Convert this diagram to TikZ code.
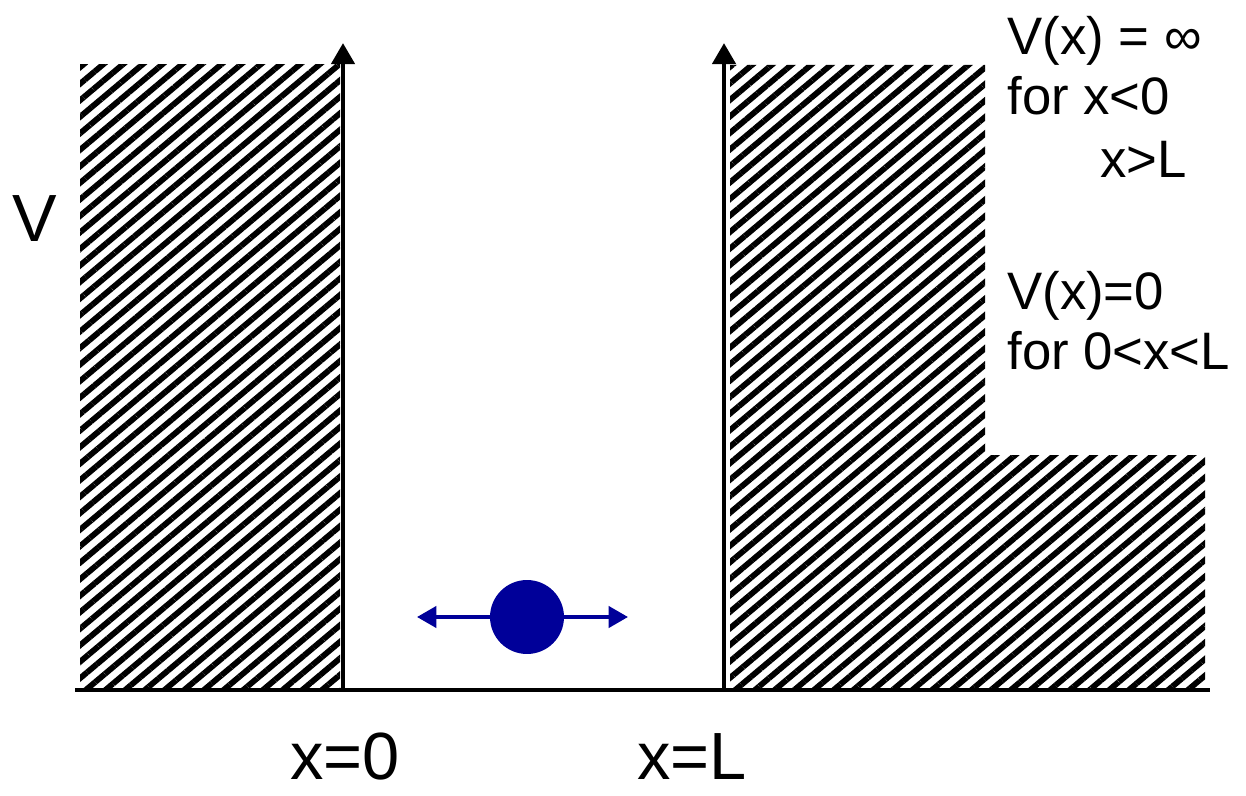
\documentclass[tikz,border=0pt]{standalone}
\usepackage{fontspec}
\setmainfont{Liberation Sans}
\usepackage{tikz}
\usetikzlibrary{arrows.meta,patterns.meta,positioning}
\definecolor{ballblue}{RGB}{0,0,153}

\begin{document}
\begin{tikzpicture}[x=0.02cm, y=0.02cm, line join=miter]

\tikzstyle{wall}=[
    pattern={Lines[angle=40, distance=7.2pt, line width=3.3pt]},
    draw=none
]
\tikzstyle{axis}=[line width=2.8pt, -{Triangle[width=13pt,length=12pt]}]
\tikzstyle{label}=[font=\fontsize{38}{42}\selectfont, inner sep=0pt]
\tikzstyle{note}=[font=\fontsize{30}{34}\selectfont, inner sep=0pt, anchor=base west]

\useasboundingbox (0,0) rectangle (1246,795);

% hatched walls
\fill[wall] (80,105) rectangle (340,730);
\fill[wall] (730,105) -- (730,730) -- (985,730) -- (985,340) -- (1205,340) -- (1205,105) -- cycle;

% axes
\coordinate (O_l) at (343,105);
\coordinate (T_l) at (343,752);
\coordinate (O_r) at (724,105);
\coordinate (T_r) at (724,752);
\coordinate (A_s) at (75,105);
\coordinate (A_e) at (1210,105);
\draw[line width=2.8pt] (A_s) -- (A_e);
\draw[axis] (O_l) -- (T_l);
\draw[axis] (O_r) -- (T_r);

% particle
\node[circle, fill=ballblue, minimum size=1.48cm, inner sep=0pt] (P) at (527,178) {};
\coordinate (P_l) at (417,178);
\coordinate (P_r) at (628,178);
\draw[ballblue, line width=2.2pt, {Triangle[width=12pt,length=11pt]}-{Triangle[width=12pt,length=11pt]}] (P_l) -- (P_r);

% labels
\node[label, anchor=base west] (V) at (12,553) {V};
\node[label, anchor=base] (X0) at (345,16) {x=0};
\node[label, anchor=base] (XL) at (692,16) {x=L};

\node[note] (N1) at (1007,740) {V(x) = ∞};
\node[note] (N2) at (1007,680) {for x<0};
\node[note] (N3) at (1100,617) {x>L};
\node[note] (N4) at (1007,485) {V(x)=0};
\node[note] (N5) at (1007,425) {for 0<x<L};

\end{tikzpicture}
\end{document}
